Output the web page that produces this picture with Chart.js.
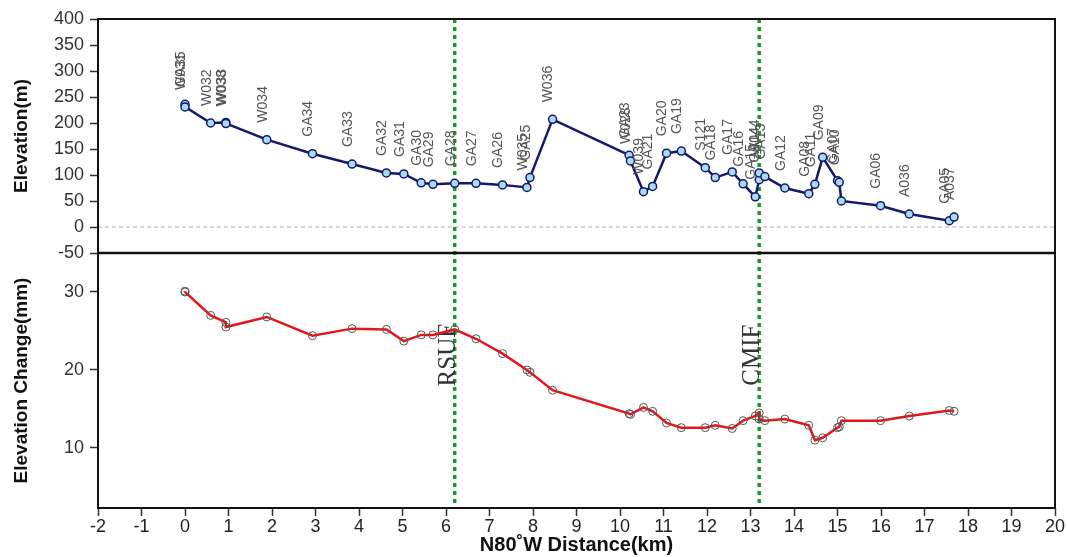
<!DOCTYPE html>
<html>
<head>
<meta charset="utf-8">
<script src="https://cdn.jsdelivr.net/npm/chart.js@4"></script>
<style>
  html, body { margin: 0; padding: 0; background: #fff; }
  #wrap { position: relative; width: 1067px; height: 557px; }
</style>
</head>
<body>
<div id="wrap"><canvas id="profileChart" width="1067" height="557"></canvas></div>
<script>
// stations along the profile (km from the first benchmark)
const stations = ['GA35', 'W031', 'W032', 'W033', 'W038', 'W034', 'GA34', 'GA33', 'GA32', 'GA31',
  'GA30', 'GA29', 'GA28', 'GA27', 'GA26', 'W035', 'GA25', 'W036', 'GA23', 'W028',
  'W039', 'GA21', 'GA20', 'GA19', 'S121', 'GA18', 'GA17', 'GA16', 'GA15', 'GA14',
  'W044', 'GA13', 'GA12', 'GA08', 'GA11', 'GA09', 'GA07', 'GA10', '', 'GA06',
  'A036', 'GA05', 'A037'];
const distance = [0, 0, 0.59, 0.94, 0.94, 1.88, 2.93, 3.84, 4.63, 5.03,
  5.43, 5.70, 6.20, 6.69, 7.30, 7.86, 7.93, 8.45, 10.21, 10.24,
  10.54, 10.75, 11.07, 11.41, 11.96, 12.19, 12.58, 12.83, 13.11, 13.20,
  13.20, 13.33, 13.79, 14.34, 14.48, 14.66, 15.00, 15.04, 15.09, 15.99,
  16.65, 17.57, 17.68];
const elevation = [236, 231, 200, 201, 199, 168, 141, 121, 104, 102,
  85, 82, 84, 84, 81, 76, 95, 207, 138, 127,
  68, 78, 142, 146, 114, 95, 106, 83, 58, 91,
  104, 97, 75, 64, 82, 134, 89, 86, 50, 41,
  25, 12, 19];
const elevChange = [30.1, 30.0, 27.0, 26.1, 25.5, 26.8, 24.4, 25.3, 25.2, 23.7,
  24.5, 24.5, 25.2, 24.0, 22.1, 20.0, 19.7, 17.4, 14.4, 14.3,
  15.2, 14.7, 13.2, 12.6, 12.6, 12.9, 12.5, 13.5, 14.1, 14.5,
  13.7, 13.5, 13.7, 12.9, 11.0, 11.3, 12.6, 12.7, 13.5, 13.5,
  14.1, 14.8, 14.7];

// faults
const faultX = [6.2, 13.2];
const faultNames = ['RSUF', 'CMIF'];
const faultLabelY = 21.9; // mm, on the lower axis

// axis ticks
const changeTicks = [10, 20, 30];

const elevPoints = distance.map((d, i) => ({ x: d, y: elevation[i] }));
const changePoints = distance.map((d, i) => ({ x: d, y: elevChange[i] }));

// extra drawing: frame, zero line, fault lines, station names
const profileDecor = {
  id: 'profileDecor',
  beforeDatasetsDraw(chart) {
    const { ctx, chartArea, scales } = chart;
    const x = scales.x, yT = scales.yT, yB = scales.yB;
    ctx.save();
    // zero elevation line
    const y0 = yT.getPixelForValue(0);
    ctx.strokeStyle = '#b0b0b0';
    ctx.lineWidth = 1;
    ctx.setLineDash([4, 3]);
    ctx.beginPath();
    ctx.moveTo(chartArea.left, y0);
    ctx.lineTo(chartArea.right, y0);
    ctx.stroke();
    // fault lines
    ctx.strokeStyle = '#1a9a22';
    ctx.lineWidth = 3.5;
    ctx.setLineDash([4, 4]);
    faultX.forEach(fx => {
      const px = x.getPixelForValue(fx);
      ctx.beginPath();
      ctx.moveTo(px, chartArea.top);
      ctx.lineTo(px, chartArea.bottom);
      ctx.stroke();
    });
    ctx.setLineDash([]);
    // fault names
    ctx.fillStyle = '#333';
    ctx.font = '25px "Liberation Serif", "DejaVu Serif", serif';
    ctx.textAlign = 'center';
    ctx.textBaseline = 'alphabetic';
    faultX.forEach((fx, i) => {
      ctx.save();
      ctx.translate(x.getPixelForValue(fx), yB.getPixelForValue(faultLabelY));
      ctx.rotate(-Math.PI / 2);
      ctx.fillText(faultNames[i], 0, 0);
      ctx.restore();
    });
    ctx.restore();
  },
  afterDatasetsDraw(chart) {
    const { ctx, scales } = chart;
    const x = scales.x, yT = scales.yT;
    ctx.save();
    ctx.fillStyle = '#555';
    ctx.font = '14px "Liberation Sans", Arial, sans-serif';
    ctx.textAlign = 'left';
    ctx.textBaseline = 'middle';
    stations.forEach((name, i) => {
      if (!name) return;
      ctx.save();
      ctx.translate(x.getPixelForValue(distance[i]) - 4, yT.getPixelForValue(elevation[i]) - 17);
      ctx.rotate(-Math.PI / 2);
      ctx.fillText(name, 0, 0);
      ctx.restore();
    });
    ctx.restore();
  },
  afterDraw(chart) {
    const { ctx, chartArea } = chart;
    const yT = chart.scales.yT;
    ctx.save();
    ctx.strokeStyle = '#111';
    ctx.lineWidth = 2;
    ctx.strokeRect(chartArea.left, chartArea.top, chartArea.right - chartArea.left, chartArea.bottom - chartArea.top);
    ctx.lineWidth = 2.5;
    ctx.beginPath();
    ctx.moveTo(chartArea.left, yT.bottom);
    ctx.lineTo(chartArea.right, yT.bottom);
    ctx.stroke();
    ctx.restore();
  }
};

const ctx = document.getElementById('profileChart').getContext('2d');
const profileChart = new Chart(ctx, {
  type: 'line',
  data: {
    datasets: [{
      label: 'Elevation',
      data: elevPoints,
      yAxisID: 'yT',
      borderColor: '#15196a',
      borderWidth: 2.5,
      pointRadius: 4,
      pointBackgroundColor: '#a9dcf4',
      pointBorderColor: '#15196a',
      pointBorderWidth: 1.5,
      tension: 0,
      fill: false
    }, {
      label: 'Elevation Change',
      data: changePoints,
      yAxisID: 'yB',
      borderColor: '#e3161c',
      borderWidth: 2.5,
      pointRadius: 4,
      pointBackgroundColor: 'rgba(255,255,255,0)',
      pointBorderColor: '#555',
      pointBorderWidth: 1,
      tension: 0,
      fill: false
    }]
  },
  options: {
    responsive: false,
    animation: false,
    layout: { padding: { top: 19, right: 12, left: 0, bottom: 0 } },
    plugins: { legend: { display: false }, tooltip: { enabled: false } },
    scales: {
      x: {
        type: 'linear',
        min: -2,
        max: 20,
        ticks: {
          stepSize: 1,
          autoSkip: false,
          maxRotation: 0,
          padding: 0,
          color: '#222',
          font: { family: '"Liberation Sans Narrow", "Liberation Sans", sans-serif', size: 18 }
        },
        grid: { drawOnChartArea: false, drawTicks: true, tickLength: 8, tickColor: '#333', tickWidth: 1.5 },
        border: { display: false },
        title: {
          display: true,
          text: 'N80˚W Distance(km)',
          color: '#111',
          padding: { top: 0, bottom: 0 },
          font: { family: '"Liberation Sans", Arial, sans-serif', size: 20, weight: 'bold' }
        },
        afterFit(scale) { scale.height = 49; }
      },
      yB: {
        type: 'linear',
        position: 'left',
        stack: 'profile',
        stackWeight: 255,
        min: 2.3,
        max: 35,
        afterBuildTicks(scale) { scale.ticks = changeTicks.map(v => ({ value: v })); },
        ticks: { autoSkip: false, padding: 6, color: '#333', font: { family: '"Liberation Sans", Arial, sans-serif', size: 18 } },
        grid: { drawOnChartArea: false, drawTicks: true, tickLength: 8, tickColor: '#333', tickWidth: 1.5 },
        border: { display: false },
        title: {
          display: true,
          text: 'Elevation Change(mm)',
          color: '#111',
          padding: { top: 10, bottom: 0 },
          font: { family: '"Liberation Sans", Arial, sans-serif', size: 19, weight: 'bold' }
        },
        afterFit(scale) { scale.width = 98; }
      },
      yT: {
        type: 'linear',
        position: 'left',
        stack: 'profile',
        stackWeight: 234,
        min: -50,
        max: 400,
        ticks: { stepSize: 50, autoSkip: false, padding: 6, color: '#333', font: { family: '"Liberation Sans", Arial, sans-serif', size: 18 } },
        grid: { drawOnChartArea: false, drawTicks: true, tickLength: 8, tickColor: '#333', tickWidth: 1.5 },
        border: { display: false },
        title: {
          display: true,
          text: 'Elevation(m)',
          color: '#111',
          padding: { top: 10, bottom: 0 },
          font: { family: '"Liberation Sans", Arial, sans-serif', size: 19, weight: 'bold' }
        },
        afterFit(scale) { scale.width = 98; }
      }
    }
  },
  plugins: [profileDecor]
});
</script>
</body>
</html>
